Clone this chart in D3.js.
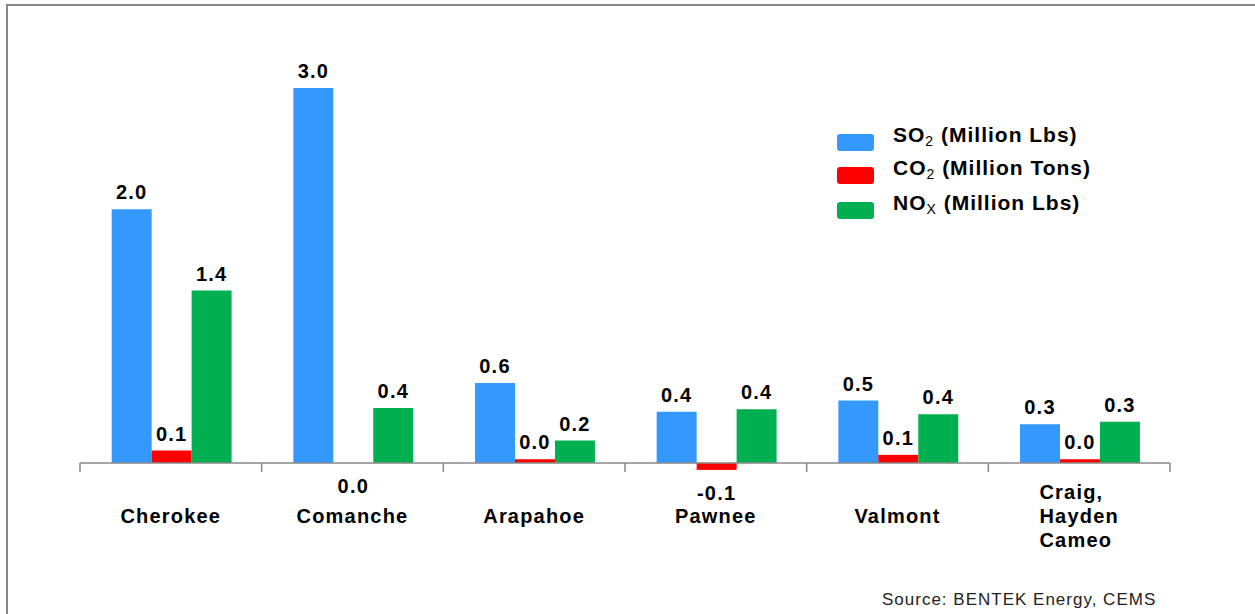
<!DOCTYPE html>
<html><head><meta charset="utf-8">
<script src="https://cdn.jsdelivr.net/npm/d3@7"></script>
<style>
html,body{margin:0;padding:0;background:#fff;}
svg{display:block;}
text{font-family:"Liberation Sans",Arial,sans-serif;}
</style></head>
<body>
<svg id="chart" width="1255" height="614"></svg>
<script>
const categories = ["Cherokee","Comanche","Arapahoe","Pawnee","Valmont","Craig,\nHayden\nCameo"];
const so2 = [2.03, 3.0, 0.64, 0.41, 0.5, 0.31];
const co2 = [0.1, 0.0, 0.03, -0.055, 0.065, 0.03];
const nox = [1.38, 0.44, 0.18, 0.43, 0.39, 0.33];
const seriesNames = ["SO|2| (Million Lbs)","CO|2| (Million Tons)","NO|X| (Million Lbs)"];
const seriesColors = ["#3399ff","#ff0000","#00b050"];
const sourceText = "Source: BENTEK Energy, CEMS";

const series = [so2, co2, nox];
const svg = d3.select("#chart");

// frame
svg.append("path").attr("d","M7,614 V5 H1255").attr("fill","none").attr("stroke","#888").attr("stroke-width",2);

const x = d3.scaleBand().domain(categories).range([80,1170]).paddingInner(0.34).paddingOuter(0.17);
const xs = d3.scaleBand().domain([0,1,2]).range([0, x.bandwidth()]);
const y = d3.scaleLinear().domain([0,3]).range([463,88]);

const outer = d3.scalePoint().domain(d3.range(categories.length+1)).range([80,1170]);

// bars
series.forEach((vals,si)=>{
  svg.append("g").selectAll("rect").data(vals).join("rect")
    .attr("x",(d,i)=>x(categories[i])+xs(si)+0.8)
    .attr("width",xs.bandwidth())
    .attr("y",d=>y(Math.max(d,0)))
    .attr("height",d=>Math.abs(y(d)-y(0)))
    .attr("fill",seriesColors[si]);
});

// axis
const axisG = svg.append("g");
axisG.append("line").attr("x1",80).attr("x2",1170).attr("y1",y(0)).attr("y2",y(0)).attr("stroke","#888").attr("stroke-width",1.5);
axisG.selectAll("line.tick").data(outer.domain()).join("line").attr("class","tick")
  .attr("x1",d=>outer(d)).attr("x2",d=>outer(d)).attr("y1",y(0)).attr("y2",y(0)+9)
  .attr("stroke","#888").attr("stroke-width",1.5);

// value labels
const fmt = d3.formatLocale({decimal:".",thousands:",",grouping:[3],currency:["",""],minus:"-"}).format(".1f");
series.forEach((vals,si)=>{
  svg.append("g").selectAll("text").data(vals).join("text")
    .attr("x",(d,i)=>x(categories[i])+xs(si)+xs.bandwidth()/2+0.8)
    .attr("y",d=> d>0 ? y(d)-10 : y(Math.min(d,0))+30)
    .attr("text-anchor","middle")
    .attr("font-size",20).attr("font-weight","bold").attr("letter-spacing",1.2)
    .attr("fill","#000")
    .text(d=>fmt(d));
});

// category labels
categories.forEach((c,i)=>{
  const lines = c.split("\n");
  const cx = x(c)+x.bandwidth()/2;
  const t = svg.append("text").attr("font-size",20).attr("font-weight","bold").attr("letter-spacing",1.2).attr("fill","#000");
  if(lines.length===1){
    t.attr("x",cx).attr("y",523).attr("text-anchor","middle").text(c);
  } else {
    lines.forEach((l,j)=>{
      t.append("tspan").attr("x",0).attr("y",499+j*24).text(l);
    });
    const w = t.node().getBBox().width;
    t.selectAll("tspan").attr("x",cx-w/2);
  }
});

// legend
const legY = [134,167,202];
seriesNames.forEach((n,i)=>{
  svg.append("rect").attr("x",837).attr("y",legY[i]).attr("width",37).attr("height",17).attr("rx",3).attr("fill",seriesColors[i]);
  const parts = n.split("|");
  const t = svg.append("text").attr("x",893).attr("y",legY[i]+8).attr("font-size",21).attr("font-weight","bold").attr("letter-spacing",1).attr("fill","#000");
  t.append("tspan").text(parts[0]);
  t.append("tspan").attr("font-size",14).attr("dy",4).attr("font-weight","normal").text(parts[1]);
  t.append("tspan").attr("dy",-4).text(parts[2]);
});

// source
svg.append("text").attr("x",882).attr("y",605).attr("font-size",17).attr("letter-spacing",1).attr("fill","#222").text(sourceText);
</script>
</body></html>
